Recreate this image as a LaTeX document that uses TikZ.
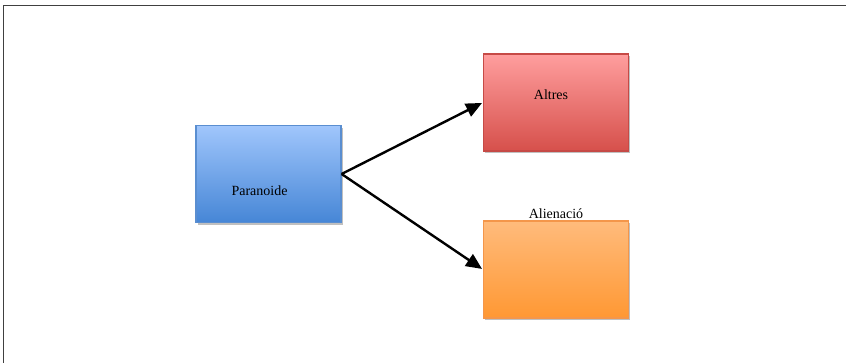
\documentclass[tikz,border=0pt]{standalone}
\usepackage{fontspec}
\setmainfont{Liberation Serif}
\usetikzlibrary{arrows.meta,shadows}
\definecolor{bluetop}{HTML}{A0C6FC}
\definecolor{bluebot}{HTML}{4686D6}
\definecolor{blueline}{HTML}{5A8ED0}
\definecolor{redtop}{HTML}{FF9E9E}
\definecolor{redbot}{HTML}{D6504B}
\definecolor{redline}{HTML}{C64A46}
\definecolor{orgtop}{HTML}{FFBB7C}
\definecolor{orgbot}{HTML}{FF9833}
\definecolor{orgline}{HTML}{F4964A}
\tikzset{
  box/.style={rectangle, minimum width=145pt, minimum height=97pt, line width=1.2pt,
    drop shadow={shadow xshift=1.5pt, shadow yshift=-2.5pt, opacity=0.45, fill=black!55}},
  lbl/.style={font=\fontsize{14}{16}\selectfont, text=black},
  arr/.style={line width=2.4pt, -{Triangle[length=16pt,width=14pt]}, shorten >=1pt}
}
\begin{document}
\begin{tikzpicture}[x=1pt,y=-1pt]
\useasboundingbox (0,0) rectangle (846,363);
\draw[line width=1.5pt, black!75] (3.5,363) -- (3.5,5.5) -- (846,5.5);
\node[box, draw=blueline, top color=bluetop, bottom color=bluebot] (par) at (268.5,174) {};
\node[box, draw=redline, top color=redtop, bottom color=redbot] (alt) at (556,102.5) {};
\node[box, draw=orgline, top color=orgtop, bottom color=orgbot] (ali) at (556,269.5) {};
\node[lbl] (parl) at (259.5,191) {Paranoide};
\node[lbl] (altl) at (551,95) {Altres};
\node[lbl, anchor=south, inner sep=2pt] (alil) at (ali.north) {Alienació};
\coordinate (o) at (par.east);
\draw[arr] (o) -- (alt.west);
\draw[arr] (o) -- (ali.west);
\end{tikzpicture}
\end{document}
